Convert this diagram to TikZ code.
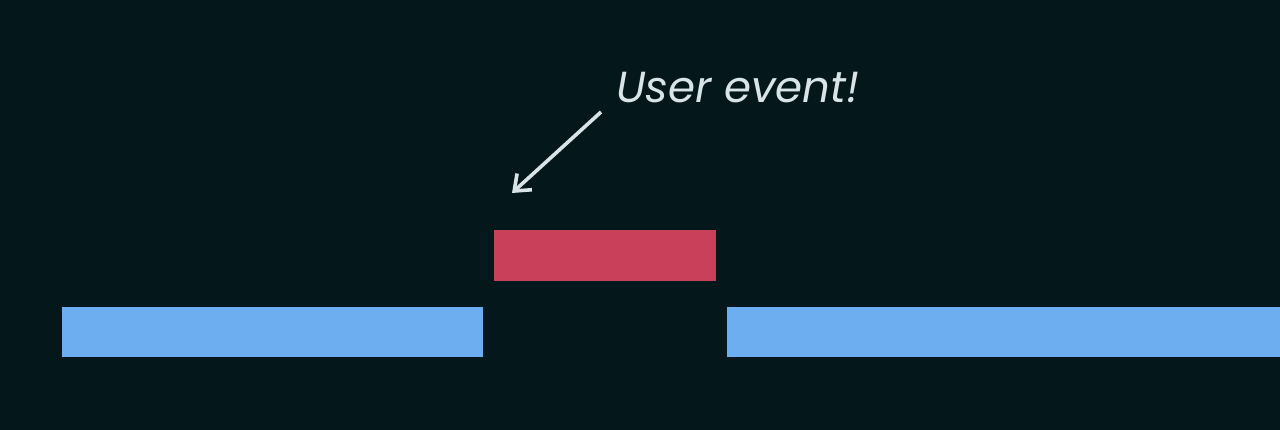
\documentclass[tikz,border=0pt]{standalone}
\usepackage{fontspec}
\setmainfont{Poppins}
\usetikzlibrary{arrows.meta}
\definecolor{bg}{HTML}{04181C}
\definecolor{barblue}{HTML}{6DAEF0}
\definecolor{barred}{HTML}{C8405A}
\definecolor{txt}{HTML}{D8E4E8}
\begin{document}
\begin{tikzpicture}[x=1pt,y=-1pt,
  bar/.style={draw=none,inner sep=0pt,outer sep=0pt},
  lbl/.style={text=txt,font=\itshape\fontsize{43.5}{52}\selectfont,inner sep=0pt,anchor=base west},
  pointer/.style={draw=txt,line width=3.6pt,-{Straight Barb[length=14pt,width=22pt,line width=3.6pt]}}]
\fill[bg] (0,0) rectangle (1280,430);
\useasboundingbox (0,0) rectangle (1280,430);
\node[bar,fill=barblue,minimum width=421pt,minimum height=50pt,anchor=north west] (left) at (62,307) {};
\node[bar,fill=barblue,minimum width=553pt,minimum height=50pt,anchor=north west] (right) at (727,307) {};
\node[bar,fill=barred,minimum width=222pt,minimum height=51pt,anchor=north west] (event) at (494,230) {};
\node[lbl] (label) at (616,103) {User event!};
\coordinate (tail) at (601,112);
\coordinate (tip) at (512,193);
\draw[pointer] (tail) -- (tip);
\end{tikzpicture}
\end{document}
